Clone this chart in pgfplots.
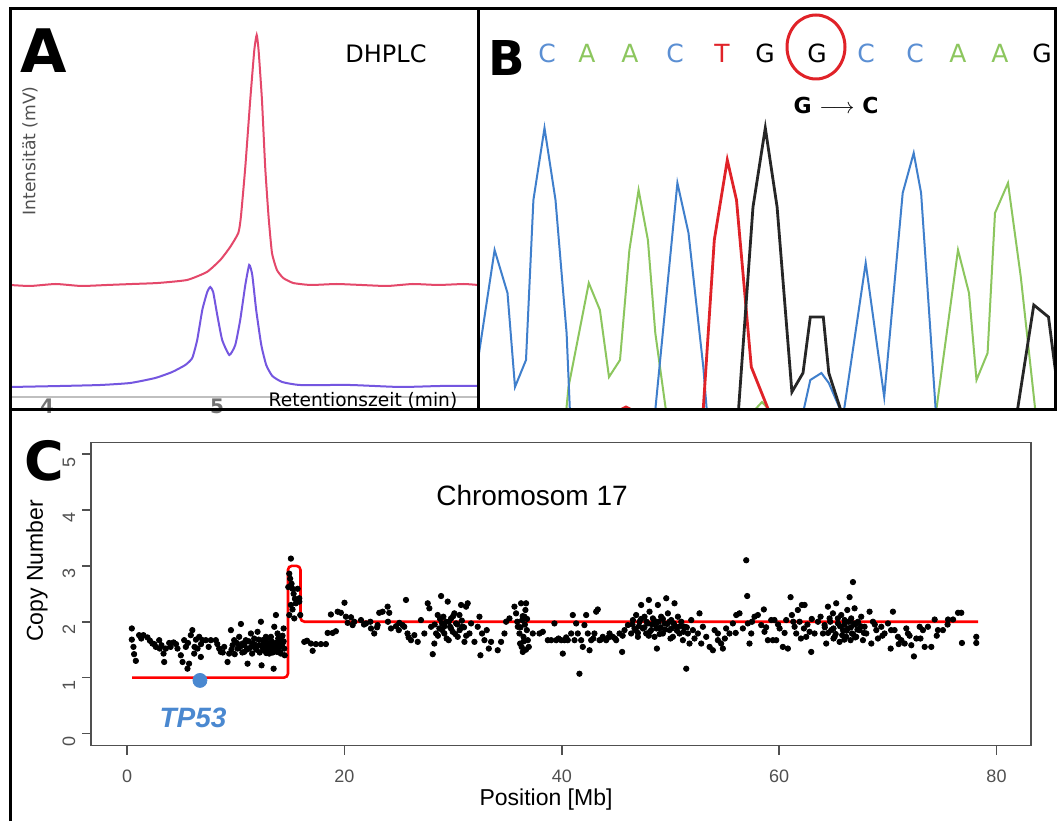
\documentclass[border=0pt]{standalone}
\usepackage{pgfplots}
\pgfplotsset{compat=1.18}
\usepackage{fontspec}
\setmainfont{DejaVu Sans}
\newfontfamily\arial{Liberation Sans}
\definecolor{redA}{HTML}{E4486A}
\definecolor{vioA}{HTML}{7456E0}
\definecolor{sblue}{HTML}{3F7FCC}
\definecolor{sgreen}{HTML}{8CC65E}
\definecolor{sred}{HTML}{E02228}
\definecolor{lblue}{HTML}{5B8FD3}
\definecolor{tpblue}{HTML}{4A88D0}
\definecolor{rgray}{HTML}{505050}
\begin{document}
\begin{tikzpicture}[x=0.5pt,y=0.5pt]
\path[use as bounding box, fill=white] (0,0) rectangle (1057,821);
% ---------------- Panel A ----------------
\begin{axis}[at={(6,411)}, anchor=south west, scale only axis,
  width=234pt, height=200pt, xmin=3.782, xmax=6.535, ymin=0, ymax=400,
  hide axis, clip=true]
\draw[black!25, line width=0.6pt] (axis cs:3.782,13) -- (axis cs:6.535,13);
\addplot[redA, line width=1pt, smooth, tension=0.3] coordinates {
(3.782,125) (3.9,124) (4.05,126) (4.2,124) (4.35,125) (4.5,126) (4.65,127)
(4.822,130) (4.939,138) (5.018,150) (5.076,163) (5.124,177) (5.139,193)
(5.165,243) (5.194,310) (5.218,360) (5.232,375) (5.243,360) (5.263,310)
(5.282,243) (5.302,193) (5.322,157) (5.351,140) (5.388,132) (5.447,127)
(5.55,125) (5.7,126) (5.85,125) (6.0,124) (6.15,126) (6.3,125) (6.45,126) (6.535,125)};
\addplot[vioA, line width=1pt, smooth, tension=0.3] coordinates {
(3.782,23) (4.076,24) (4.312,25) (4.488,27) (4.635,32) (4.735,38) (4.812,45)
(4.853,52) (4.882,70) (4.912,100) (4.941,118) (4.959,123) (4.976,118)
(5.0,95) (5.029,70) (5.071,55) (5.106,65) (5.135,90) (5.165,125) (5.188,145)
(5.206,135) (5.229,100) (5.259,65) (5.288,45) (5.324,34) (5.382,28)
(5.488,25) (5.782,25) (6.076,23) (6.312,24) (6.535,24)};
\end{axis}
% ---------------- Panel B ----------------
\begin{axis}[at={(478,411)}, anchor=south west, scale only axis,
  width=289.5pt, height=200pt, xmin=478, xmax=1057, ymin=0, ymax=400,
  hide axis, clip=true]
\addplot[sgreen, line width=1pt] coordinates {(566,-3) (568.5,23) (588.8,127) (599.9,100) (609,33) (620,50) (629.4,160) (638.6,220) (647.9,170) (655.3,77) (666.3,-3)};
\addplot[sgreen, line width=1pt] coordinates {(935.9,-3) (958,160) (969,117) (976.5,30) (987.6,57) (995,197) (1008,227) (1020.8,133) (1035.6,-3)};
\addplot[sgreen, line width=1pt] coordinates {(752,-3) (762,8) (772,-3)};
\addplot[sblue, line width=1pt] coordinates {(478,50) (494.6,160) (507.5,117) (515,23) (526,50) (533.4,210) (544.5,282) (555.5,210) (566.6,77) (570,-3)};
\addplot[sblue, line width=1pt] coordinates {(655,-3) (677.4,227) (688.5,177) (703.3,43) (707,-3)};
\addplot[sblue, line width=1pt] coordinates {(803,-3) (810.3,30) (821.4,37) (828.8,27) (841.7,-3)};
\addplot[sblue, line width=1pt] coordinates {(843.6,-3) (865.7,147) (884.2,13) (902.7,217) (913.7,257) (921.1,217) (935.9,-3)};
\addplot[sred, line width=1.4pt] coordinates {(614,-3) (626,3) (638,-3)};
\addplot[sred, line width=1.4pt] coordinates {(703,-3) (714.3,170) (727.3,250) (736.5,210) (751.3,43) (769.7,-3)};
\addplot[black!85, line width=1.4pt] coordinates {(738.3,-3) (753,203) (765.3,282) (777.1,203) (791.9,18) (803,37) (810.3,93) (823.3,93) (828.8,37) (841.7,-3)};
\addplot[black!85, line width=1.4pt] coordinates {(1017,-3) (1033.8,105) (1048.5,93) (1057,27)};
\end{axis}
% ---------------- Panel C ----------------
\begin{axis}[at={(84,135)}, anchor=south west, scale only axis,
  width=470pt, height=151.5pt, xmin=-3.3, xmax=83.2, ymin=-0.215, ymax=5.206,
  xtick={0,20,40,60,80}, ytick={0,1,2,3,4,5}, tick pos=left, tick align=outside,
  major tick length=4.5pt, axis line style={rgray, line width=0.8pt},
  tick style={rgray, line width=0.8pt},
  /pgf/number format/assume math mode=true,
  ticklabel style={font=\arial\fontsize{9}{10}\selectfont, text=rgray},
  yticklabel style={rotate=90, anchor=south, xshift=-4pt},
  xticklabel style={yshift=-4pt},
  clip=false]
\addplot[only marks, mark=*, mark size=1.35pt, black] table {
x y
0.43 1.88
0.43 1.68
0.58 1.55
0.64 1.42
0.8 1.3
1.1 1.76
1.5 1.76
1.87 1.72
2.1 1.66
2.33 1.61
2.64 1.55
2.95 1.67
3.16 1.58
3.35 1.43
3.41 1.28
3.56 1.52
3.87 1.62
4.27 1.63
4.63 1.52
4.94 1.4
5.1 1.28
5.25 1.67
5.4 1.55
5.55 1.16
5.7 1.25
5.86 1.76
6.0 1.85
6.17 1.43
6.33 1.68
6.48 1.52
6.63 1.73
6.78 1.37
6.94 1.67
7.24 1.67
7.7 1.67
8.16 1.67
8.47 1.52
8.62 1.46
8.93 1.55
9.24 1.28
9.39 1.43
9.55 1.85
9.7 1.58
9.85 1.67
10.16 1.52
10.31 1.73
10.47 1.96
10.62 1.61
10.77 1.46
10.92 1.67
11.08 1.25
11.23 1.52
11.39 1.79
11.54 1.61
11.69 1.7
11.85 1.52
12.0 1.82
12.15 1.58
12.31 2.0
12.37 1.22
12.46 1.67
12.62 1.49
12.77 1.73
12.86 1.55
12.98 1.61
13.08 1.43
13.23 1.73
13.38 1.52
13.48 1.16
13.54 1.91
13.6 1.61
13.69 2.12
13.79 1.46
13.84 1.79
14.0 1.55
14.09 1.67
14.15 1.43
14.3 1.61
14.4 1.88
14.46 1.52
1.3 1.7
2.5 1.6
3.0 1.52
4.0 1.55
4.5 1.6
5.6 1.62
6.2 1.55
6.8 1.6
7.5 1.55
8.3 1.6
8.8 1.45
9.6 1.5
9.9 1.42
10.1 1.62
10.4 1.55
10.6 1.45
10.8 1.58
11.0 1.5
11.2 1.65
11.4 1.55
11.5 1.43
11.7 1.6
11.9 1.5
12.1 1.68
12.2 1.45
12.4 1.58
12.5 1.52
12.7 1.62
12.8 1.44
12.9 1.7
13.0 1.52
13.1 1.6
13.3 1.65
13.4 1.45
13.5 1.56
13.7 1.62
13.8 1.52
13.9 1.7
14.0 1.47
14.2 1.58
14.3 1.75
14.4 1.65
14.5 1.4
15.07 3.13
14.92 2.86
15.0 2.77
15.13 2.68
15.22 2.59
15.32 2.5
15.44 2.41
15.53 2.33
15.69 2.59
15.84 2.42
15.07 2.3
15.22 2.22
15.38 2.06
15.84 2.36
14.92 2.12
15.93 2.12
14.83 2.62
16.3 1.64
16.55 1.66
16.91 1.61
17.07 1.48
17.37 1.6
17.83 1.6
18.29 1.6
18.45 1.8
18.75 2.13
18.91 1.8
19.21 1.83
19.37 2.18
19.67 2.16
20.0 2.34
20.13 2.09
20.29 1.98
20.6 2.08
20.75 1.94
21.52 2.03
21.98 1.97
22.38 2.0
22.44 1.88
22.74 1.79
23.05 1.94
23.2 2.16
23.51 2.18
23.97 2.27
24.12 2.16
24.28 1.88
24.74 1.92
25.05 1.98
25.35 1.94
20.9 2.0
21.8 1.95
23.0 1.9
24.0 2.0
25.0 1.85
25.9 1.72
25.66 2.39
25.5 1.91
25.8 1.79
26.12 1.67
26.43 1.76
26.74 1.64
27.04 2.03
27.35 1.79
27.66 2.33
27.81 2.24
27.97 1.91
28.12 1.42
28.27 1.61
28.43 1.79
28.58 2.12
28.73 1.88
28.89 2.46
28.98 1.97
29.1 2.09
29.19 1.79
29.35 2.0
29.5 2.36
29.59 1.67
29.72 1.91
29.81 2.06
29.96 1.82
30.11 2.15
30.27 1.97
30.42 1.73
30.58 2.12
30.73 2.3
30.88 1.91
31.04 1.64
31.19 2.27
31.34 2.33
31.5 1.79
31.65 1.97
31.96 1.64
32.26 1.91
32.42 2.09
32.51 1.4
32.66 1.79
32.88 1.67
33.09 1.85
33.28 1.52
33.49 1.64
34.1 1.49
34.41 1.64
34.72 1.79
34.87 2.0
35.18 2.06
35.64 2.27
35.79 2.15
35.95 1.91
36.1 1.79
36.16 1.61
36.25 2.33
36.35 2.03
36.41 1.46
36.47 1.73
36.56 2.09
36.65 2.21
36.71 2.33
36.78 1.85
36.87 1.67
36.96 1.55
28.3 1.95
28.6 1.75
28.8 2.05
29.0 1.85
29.2 1.92
29.4 1.7
29.6 2.0
29.8 1.88
30.0 2.1
30.2 1.78
30.4 1.95
30.6 1.85
30.8 2.02
31.0 1.9
31.2 1.75
35.9 2.0
36.2 1.9
36.4 2.1
36.6 1.95
36.8 2.05
36.3 1.55
36.5 1.65
36.7 1.5
37.33 1.79
37.94 1.79
38.25 1.82
38.71 1.67
39.02 1.67
39.32 1.97
39.48 1.67
39.94 1.67
40.09 1.43
40.24 1.67
40.55 1.67
40.86 1.79
41.01 2.12
41.17 1.67
41.32 1.97
41.47 1.79
41.62 1.07
41.78 1.67
41.93 1.55
42.08 1.94
42.24 2.12
42.39 1.79
42.55 1.49
42.7 1.67
43.0 1.79
43.16 2.18
43.31 2.22
43.47 1.67
43.77 1.73
44.08 1.67
44.39 1.79
44.69 1.73
45.0 1.67
45.31 1.79
45.55 1.46
45.77 1.85
39.7 1.7
40.4 1.72
42.9 1.7
43.6 1.68
44.3 1.72
44.9 1.7
45.6 1.75
46.08 1.94
46.38 1.79
46.54 2.03
46.69 1.88
46.84 2.12
47.0 1.73
47.15 2.0
47.3 2.3
47.46 1.88
47.61 2.09
47.76 1.79
47.92 1.97
48.01 2.39
48.07 2.18
48.22 1.85
48.38 2.06
48.53 1.73
48.69 1.97
48.75 1.52
48.84 2.3
48.99 1.88
49.14 2.09
49.3 1.79
49.45 1.97
49.61 2.42
49.76 2.15
49.91 1.85
50.07 2.03
50.22 1.73
50.37 2.33
50.53 1.91
50.68 2.09
50.83 1.79
50.99 2.0
51.14 1.67
51.29 1.91
51.45 1.16
51.6 1.79
51.75 1.61
51.91 2.03
52.06 1.85
52.21 1.7
52.52 1.79
52.67 2.15
52.83 1.61
52.98 1.91
53.29 1.73
53.6 1.55
53.9 1.49
54.06 1.85
54.36 1.67
46.5 1.95
46.8 1.85
47.1 1.92
47.3 2.05
47.6 1.9
47.8 2.0
48.1 1.82
48.3 1.95
48.5 2.02
48.7 1.88
48.9 2.0
49.1 1.9
49.3 2.05
49.5 1.86
49.7 1.96
49.9 2.0
50.1 1.88
50.3 1.97
50.6 1.84
50.9 1.92
51.2 1.82
51.5 1.9
47.0 1.8
48.0 1.75
49.0 1.78
50.0 1.7
54.36 1.79
54.66 1.61
54.82 1.52
55.12 1.88
55.43 1.79
55.74 1.97
56.05 2.12
56.35 2.15
56.66 1.88
56.97 3.1
57.06 2.46
57.12 1.97
57.27 1.61
57.43 1.79
57.73 2.09
58.04 2.12
58.35 1.94
58.59 2.22
58.65 1.82
58.96 1.67
59.27 2.03
59.42 1.67
59.57 2.03
59.73 1.67
60.04 1.88
60.34 1.55
60.65 2.03
60.8 1.52
61.05 2.44
61.17 2.12
61.42 1.91
61.57 1.79
61.72 2.21
61.88 2.0
62.09 2.3
62.28 1.88
62.34 2.3
62.49 1.73
62.8 1.82
62.95 1.46
63.26 1.79
63.57 2.0
63.81 2.09
55.0 1.7
56.0 1.8
57.5 2.0
58.8 1.9
59.9 1.95
60.5 1.8
61.3 2.0
62.0 1.7
62.6 1.95
63.0 2.05
64.03 1.79
64.18 1.94
64.33 1.61
64.49 2.27
64.64 2.06
64.79 1.85
64.95 2.15
65.1 1.73
65.25 2.33
65.41 1.97
65.56 1.64
65.71 2.12
65.87 1.85
66.02 2.03
66.17 1.73
66.27 2.21
66.33 1.88
66.48 2.44
66.57 1.67
66.63 2.06
66.7 1.79
66.79 2.71
66.88 1.97
66.94 2.24
67.09 1.73
67.25 2.0
67.4 1.85
67.55 2.09
67.71 1.67
67.86 1.91
68.02 1.79
64.2 1.9
64.5 1.8
64.7 2.0
65.0 1.88
65.2 1.78
65.4 2.06
65.6 1.92
65.8 1.76
66.0 1.95
66.2 1.84
66.4 2.0
66.6 1.9
66.8 1.78
67.0 1.95
67.2 1.86
67.5 1.92
67.8 1.8
65.0 1.7
66.0 1.68
67.0 1.72
68.32 2.18
68.48 1.61
68.63 2.0
68.94 1.85
69.09 1.7
69.4 1.91
69.7 1.79
70.01 1.97
70.26 1.52
70.47 2.18
70.62 1.85
70.93 1.73
71.24 1.67
71.55 1.61
71.7 1.88
71.85 1.79
72.16 1.58
72.4 1.38
72.62 1.7
72.93 1.91
73.23 1.85
73.39 1.55
73.69 1.91
74.0 1.55
74.31 2.04
74.61 1.85
75.07 1.85
75.54 2.04
76.0 2.04
76.46 2.16
76.76 2.16
76.82 1.62
78.14 1.73
78.14 1.62
68.8 1.95
69.5 1.75
70.3 1.85
71.0 1.6
72.0 1.75
73.0 1.7
74.5 1.75
75.5 1.95
};
\addplot[red, line width=1.3pt, rounded corners=2pt] coordinates {(0.45,1) (14.8,1) (14.8,3) (15.95,3) (15.95,2) (78.3,2)};
\addplot[only marks, mark=*, mark size=3.5pt, tpblue] coordinates {(6.7,0.95)};
\end{axis}
% ---------------- texts ----------------
\node[font=\bfseries\fontsize{30}{30}\selectfont] at (44,770) {A};
\node[font=\fontsize{12}{12}\selectfont] at (386,767) {DHPLC};
\node[rotate=90, text=rgray, font=\fontsize{8.6}{9}\selectfont] at (30,670) {Intensität (mV)};
\node[text=black!55, font=\bfseries\fontsize{10}{10}\selectfont] at (47,415) {4};
\node[text=black!55, font=\bfseries\fontsize{10}{10}\selectfont] at (217,415) {5};
\node[font=\fontsize{9.3}{10}\selectfont] at (363,420) {Retentionszeit (min)};
\node[font=\bfseries\fontsize{24}{24}\selectfont] at (507,763) {B};
\begin{scope}[every node/.style={font=\fontsize{12.5}{13}\selectfont}]
\node[text=lblue] at (547,768) {C};
\node[text=sgreen] at (587,768) {A};
\node[text=sgreen] at (630,768) {A};
\node[text=lblue] at (675,768) {C};
\node[text=sred] at (722,768) {T};
\node at (765,768) {G};
\node at (817,768) {G};
\node[text=lblue] at (866,768) {C};
\node[text=lblue] at (915,768) {C};
\node[text=sgreen] at (958,768) {A};
\node[text=sgreen] at (1000,768) {A};
\node at (1042,768) {G};
\end{scope}
\draw[sred, line width=1.5pt] (816,774) ellipse [x radius=14.5pt, y radius=16pt];
\node[font=\bfseries\fontsize{11}{11}\selectfont] at (836,716) {G $\longrightarrow$ C};
\node[font=\bfseries\fontsize{27}{27}\selectfont] at (44,360) {C};
\node[font=\arial\fontsize{14}{14}\selectfont] at (532,326) {Chromosom 17};
\node[rotate=90, font=\arial\fontsize{11.5}{12}\selectfont] at (37,250) {Copy Number};
\node[font=\arial\fontsize{11.5}{12}\selectfont] at (546,21) {Position [Mb]};
\node[text=tpblue, font=\arial\bfseries\itshape\fontsize{14}{14}\selectfont] at (193,103) {TP53};
% ---------------- borders ----------------
\draw[black, line width=1.5pt] (10,0) -- (10,812) -- (1055,812) -- (1055,411);
\draw[black, line width=1.5pt] (10,411) -- (1057,411);
\draw[black, line width=1.5pt] (478,411) -- (478,812);
\end{tikzpicture}
\end{document}
